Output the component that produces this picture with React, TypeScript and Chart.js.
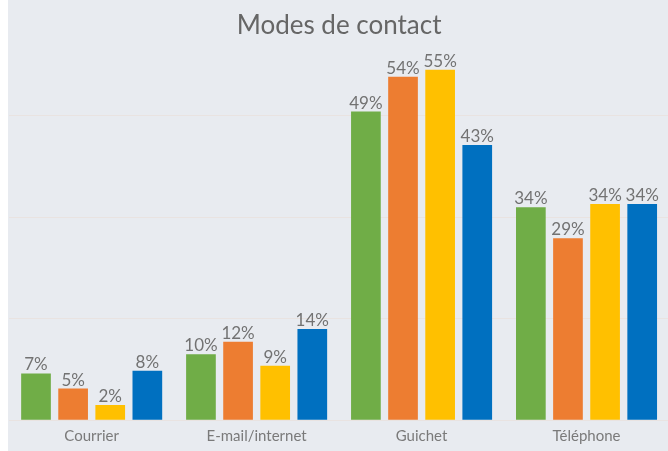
import React, { useEffect, useRef } from "react";
import { Chart, registerables } from "chart.js";

Chart.register(...registerables);

const categories = ["Courrier", "E-mail/internet", "Guichet", "Téléphone"];
const seriesNames = ["Série 1", "Série 2", "Série 3", "Série 4"];
const series1 = [7.4, 10.4, 48.7, 33.6];
const series2 = [5.0, 12.4, 54.2, 28.7];
const series3 = [2.4, 8.6, 55.3, 34.1];
const series4 = [7.8, 14.4, 43.4, 34.1];
const seriesColors = ["#70AD47", "#ED7D31", "#FFC000", "#0070C0"];
const titleText = "Modes de contact";

const bgPlugin = {
  id: "bg",
  beforeDraw(chart: any) {
    const { ctx, width, height } = chart;
    ctx.save();
    ctx.fillStyle = "#e8ebf0";
    ctx.fillRect(0, 0, width, height);
    ctx.restore();
  },
};

const labelPlugin = {
  id: "valueLabels",
  afterDatasetsDraw(chart: any) {
    const { ctx } = chart;
    ctx.save();
    ctx.font = "17px Lato";
    ctx.fillStyle = "#727272";
    ctx.textAlign = "center";
    ctx.textBaseline = "alphabetic";
    chart.data.datasets.forEach((ds: any, i: number) => {
      const meta = chart.getDatasetMeta(i);
      meta.data.forEach((bar: any, j: number) => {
        const v = ds.data[j];
        ctx.fillText(Math.round(v) + "%", bar.x, bar.y - 3);
      });
    });
    ctx.restore();
  },
};

export default function App() {
  const ref = useRef<HTMLCanvasElement>(null);
  useEffect(() => {
    if (!ref.current) return;
    const data = [series1, series2, series3, series4];
    const chart = new Chart(ref.current, {
      type: "bar",
      data: {
        labels: categories,
        datasets: data.map((d, i) => ({
          label: seriesNames[i],
          data: d,
          backgroundColor: seriesColors[i],
          borderWidth: 0,
          categoryPercentage: 0.9,
          barPercentage: 0.8,
        })),
      },
      options: {
        animation: false,
        responsive: false,
        layout: { padding: { left: 1.2, right: 27, top: 0, bottom: 6.7 } },
        plugins: {
          legend: { display: false },
          tooltip: { enabled: false },
          title: {
            display: true,
            text: titleText,
            color: "#666666",
            font: { family: "Lato", size: 26, weight: "normal" },
            padding: { top: 10, bottom: 8.8 },
          },
        },
        scales: {
          x: {
            grid: { display: false, drawTicks: false, tickLength: 0 },
            border: { display: false },
            ticks: {
              color: "#7a7a7a",
              font: { family: "Lato", size: 15 },
              padding: 7,
            },
          },
          y: {
            min: 0,
            max: 58.4,
            afterBuildTicks(scale: any) {
              scale.ticks = scale.ticks.filter((t: any) => t.value % 16 === 0);
            },
            ticks: { display: false, stepSize: 16 },
            grid: { color: "#e9e3e1", drawTicks: false, tickLength: 0, lineWidth: 1 },
            border: { display: false },
          },
        },
      },
      plugins: [bgPlugin, labelPlugin],
    });
    return () => chart.destroy();
  }, []);
  return (
    <div style={{ position: "absolute", left: 8, top: 0, width: 660, height: 451, overflow: "hidden", background: "#e8ebf0" }}>
      <canvas ref={ref} width={688} height={459} style={{ display: "block" }} />
    </div>
  );
}
